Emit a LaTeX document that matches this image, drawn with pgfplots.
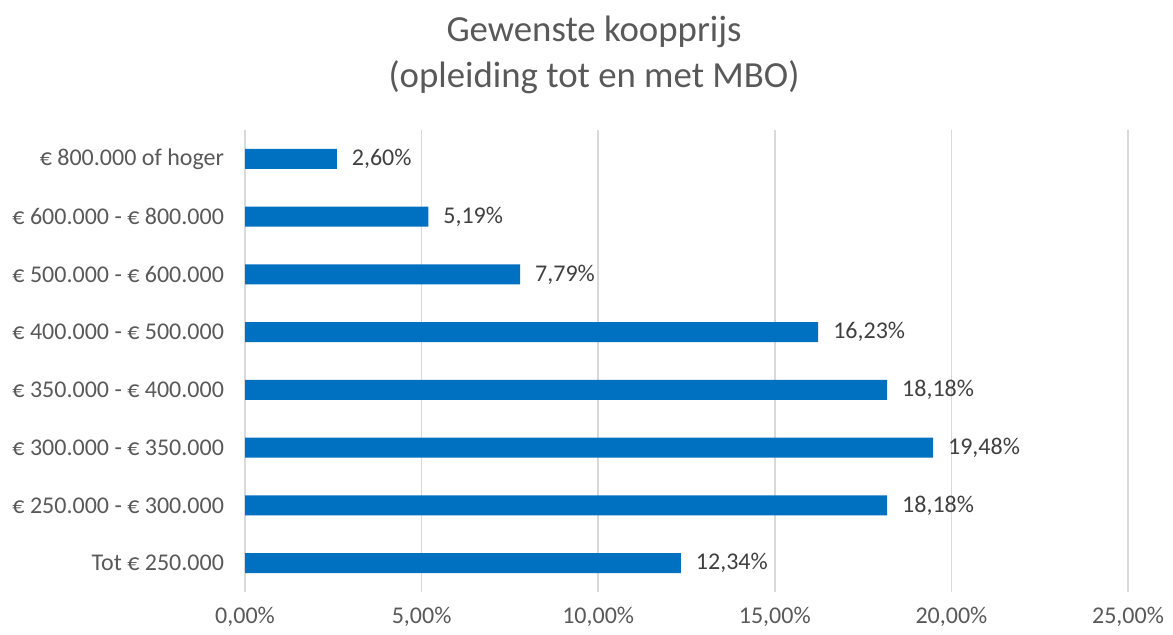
\documentclass[border=0pt]{standalone}
\usepackage{pgfplots}
\pgfplotsset{compat=1.18}
\usepackage{pgfplotstable}
\usepackage{fontspec}
\setmainfont{Carlito}
\definecolor{barblue}{HTML}{0070C0}
\definecolor{txtgray}{HTML}{595959}
\definecolor{lblgray}{HTML}{404040}
\definecolor{gridgray}{HTML}{D9D9D9}
\pgfplotstableread{
x y label
12.34 0 12,34
18.18 1 18,18
19.48 2 19,48
18.18 3 18,18
16.23 4 16,23
7.79 5 7,79
5.19 6 5,19
2.60 7 2,60
}\datatable
\begin{document}
\begin{tikzpicture}
\path[use as bounding box] (0,0) rectangle (586.5pt,317.5pt);
\begin{axis}[
  at={(122.5pt,21.5pt)}, anchor=south west,
  width=441.5pt, height=231pt, scale only axis,
  xbar, bar width=0.35,
  xmin=0, xmax=25, ymin=-0.5, ymax=7.5,
  xtick={0,5,10,15,20,25},
  xticklabels={{0,00\%},{5,00\%},{10,00\%},{15,00\%},{20,00\%},{25,00\%}},
  ytick={0,...,7},
  yticklabels={{Tot € 250.000},{€ 250.000 - € 300.000},{€ 300.000 - € 350.000},{€ 350.000 - € 400.000},{€ 400.000 - € 500.000},{€ 500.000 - € 600.000},{€ 600.000 - € 800.000},{€ 800.000 of hoger}},
  xmajorgrids, major grid style={gridgray, line width=0.75pt},
  axis line style={draw=none},
  major tick length=0pt,
  tick label style={font=\fontsize{12}{14}\selectfont, text=txtgray},
  xticklabel style={yshift=-4pt},
  yticklabel style={xshift=-7pt},
  nodes near coords={\pgfplotspointmeta\%},
  point meta=explicit symbolic,
  nodes near coords style={font=\fontsize{12}{14}\selectfont, text=lblgray, anchor=west, xshift=4pt},
]
\addplot[fill=barblue, draw=none] table[x=x, y=y, meta=label] {\datatable};
\end{axis}
\node[align=center, text=txtgray, font=\fontsize{18.4}{23}\selectfont] at (297pt,290pt) {Gewenste koopprijs\\(opleiding tot en met MBO)};
\end{tikzpicture}
\end{document}
